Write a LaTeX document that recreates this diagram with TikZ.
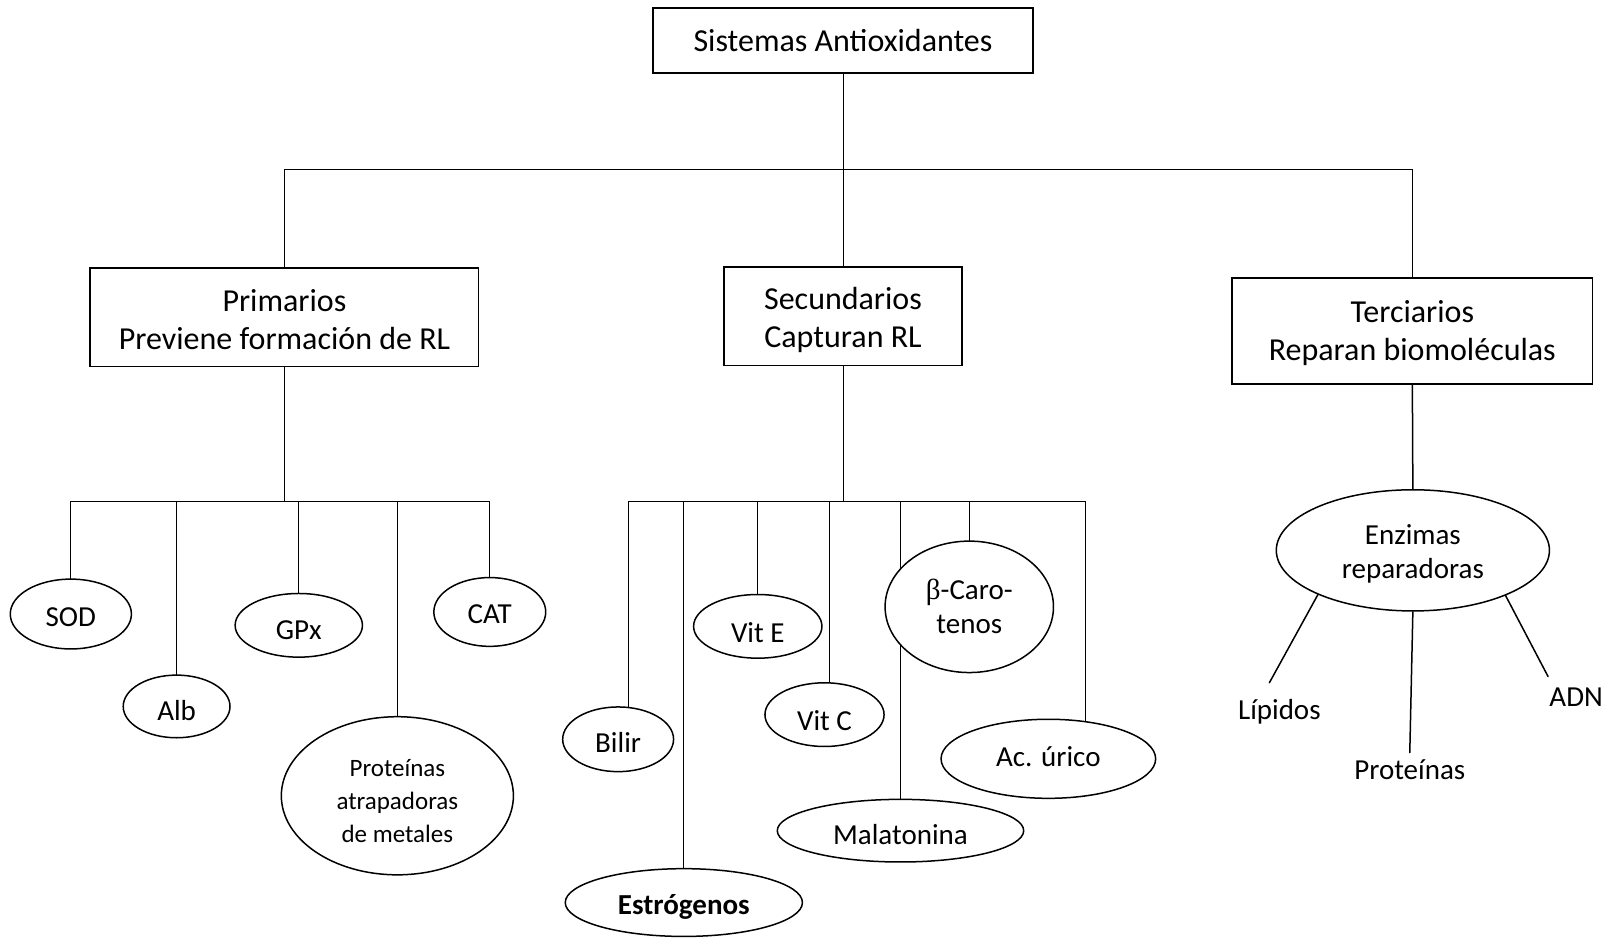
\documentclass[tikz,border=0pt]{standalone}
\usepackage{fontspec}
\setmainfont{Carlito}
\newfontfamily\greekfont{Liberation Serif}
\usetikzlibrary{shapes.geometric,backgrounds,calc}
\newcommand{\pad}[1]{\rule{0pt}{#1}}

\begin{document}
\begin{tikzpicture}[x=0.5134pt, y=-0.5134pt, line cap=round, line width=0.75pt,
  dims/.style 2 args={minimum width=#1*0.5134pt, minimum height=#2*0.5134pt},
  sink/.style={text height=#1, text depth=0pt},
  box/.style={draw, line width=0.9pt, align=center, inner sep=0pt, font=\fontsize{16}{19}\selectfont},
  leaf/.style={ellipse, draw, fill=white, align=center, inner sep=0pt, font=\fontsize{14.5}{17}\selectfont},
  tag/.style={font=\fontsize{14.5}{17}\selectfont}]
  \useasboundingbox (0,0) rectangle (1568,913);

  \node[box, dims={370}{63}] (sis) at (821,39.5) {Sistemas Antioxidantes};
  \node[box, dims={378}{96}] (prim) at (277,309) {\pad{13pt}Primarios\\Previene formación de RL};
  \node[box, dims={232}{96}] (sec) at (821,308) {\pad{15pt}Secundarios\\Capturan RL};
  \node[box, dims={351}{103}] (terc) at (1375.5,322.5) {\pad{12.5pt}Terciarios\\Reparan biomoléculas};

  \node[leaf, dims={118}{68}, sink=12.3pt] (sod) at (69,598) {SOD};
  \node[leaf, dims={104}{61}, sink=13.8pt] (alb) at (172,688) {Alb};
  \node[leaf, dims={124}{62}, sink=14.3pt] (gpx) at (291,609) {GPx};
  \node[leaf, dims={226}{154}, font=\fontsize{12.5}{16.4}\selectfont] (prot) at (387,775) {\pad{14pt}Proteínas\\atrapadoras\\de metales};
  \node[leaf, dims={109}{67}, sink=11.6pt] (cat) at (477,596) {CAT};

  \node[leaf, dims={108}{63}, sink=13.5pt] (bil) at (602,720) {Bilir};
  \node[leaf, dims={231}{66}, sink=11.7pt, font=\fontsize{14.5}{17}\selectfont\bfseries] (est) at (666,879) {Estrógenos};
  \node[leaf, dims={125}{62}, sink=16pt] (vite) at (738,610) {Vit E};
  \node[leaf, dims={116}{62}, sink=15.4pt] (vitc) at (803,696) {Vit C};
  \node[leaf, dims={240}{61}, sink=13.7pt] (mal) at (877,809) {Malatonina};
  \node[leaf, dims={164}{128}] (caro) at (944,591) {{\greekfont β}-Caro-\\tenos};
  \node[leaf, dims={209}{77}, sink=7.5pt] (acu) at (1021,739) {Ac. úrico};

  \node[leaf, dims={266}{118}] (enz) at (1376,536) {\pad{13.2pt}Enzimas\\reparadoras};
  \node[tag] (lip) at (1246,693) {Lípidos};
  \node[tag] (prt) at (1373,750) {Proteínas};
  \node[tag] (adn) at (1535,679) {ADN};

  \begin{scope}[on background layer]
    \coordinate (hub) at (821,165);
    \coordinate (pbus) at (278,488);
    \coordinate (sbus) at (820,488);
    \coordinate (bil-x) at ($(bil.center)+(10,0)$);
    \coordinate (acu-x) at ($(acu.center)+(36,0)$);
    \coordinate (vitc-x) at ($(vitc.center)+(5,0)$);

    \draw (sis.south) -- (sec.north);
    \draw (prim.north) |- (hub) -| (terc.north);

    \draw (prim.south) -- (prim.south |- pbus);
    \draw (sod.center) |- (pbus) -| (cat.center);
    \foreach \n in {alb,gpx,prot}
      \draw (\n.center) -- (\n.center |- pbus);

    \draw (sec.south) -- (sec.south |- sbus);
    \draw (bil-x) |- (sbus) -| (acu-x);
    \draw (vitc-x) -- (vitc-x |- sbus);
    \foreach \n in {est,vite,mal,caro}
      \draw (\n.center) -- (\n.center |- sbus);
  \end{scope}

  \draw (terc.south) -- (enz.north);
  \draw (enz.205) -- ([xshift=-5pt,yshift=4.5pt]lip.north);
  \draw (enz.south) -- (prt.north);
  \draw (enz.334) -- ([xshift=3pt,yshift=2pt]adn.north west);
\end{tikzpicture}
\end{document}
